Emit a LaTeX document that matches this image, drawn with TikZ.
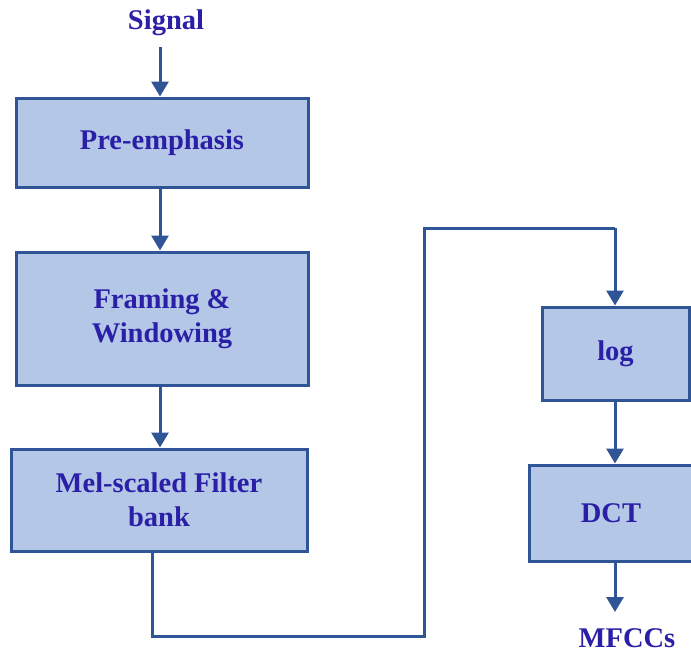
\documentclass[tikz,border=0pt]{standalone}
\usepackage{fontspec}
\setmainfont{Liberation Serif}
\usetikzlibrary{arrows.meta}
\definecolor{boxfill}{HTML}{B4C7E7}
\definecolor{boxline}{HTML}{2F5597}
\definecolor{txt}{HTML}{2A1FA6}
\tikzset{
  stage/.style={draw=boxline, fill=boxfill, line width=3pt, inner sep=0pt, align=center,
    font=\fontsize{28.5}{34}\selectfont\bfseries, text=txt},
  label/.style={font=\fontsize{28.5}{34}\selectfont\bfseries, text=txt, inner sep=0pt},
  flow/.style={draw=boxline, line width=3pt, -{Triangle[width=17pt,length=15pt]}},
  wire/.style={draw=boxline, line width=3pt}
}
\begin{document}
\begin{tikzpicture}[x=1pt,y=-1pt]
\useasboundingbox (0,0) rectangle (691,654);
% input label
\node[label] (sig) at (166,23) {Signal};
% processing stages
\node[stage, minimum width=292pt, minimum height=89pt] (pre) at (162,142.5) {Pre-emphasis};
\node[stage, minimum width=292pt, minimum height=133pt] (frm) at (162,318.5) {Framing \&\\Windowing};
\node[stage, minimum width=296pt, minimum height=102pt] (mel) at (159,500) {Mel-scaled Filter\\bank};
\node[stage, minimum width=147pt, minimum height=93pt] (log) at (615.5,353.5) {log};
\node[stage, minimum width=164pt, minimum height=96pt] (dct) at (611,513) {DCT};
% output label
\node[label] (out) at (627,638) {MFCCs};
% connectors
\coordinate (p0) at (160,47);
\draw[flow] (p0) -- (pre.north -| p0);
\draw[flow] (pre.south -| p0) -- (frm.north -| p0);
\draw[flow] (frm.south -| p0) -- (mel.north -| p0);
\coordinate (c1) at (152,636);
\coordinate (c2) at (424,636);
\coordinate (c3) at (424,228);
\coordinate (c4) at (615,228);
\draw[wire] (mel.south -| c1) -- (c1) -- (c2) -- (c3) -- (c4);
\draw[flow] (c4) -- (log.north -| c4);
\draw[flow] (log.south -| c4) -- (dct.north -| c4);
\coordinate (c5) at (615,612);
\draw[flow] (dct.south -| c4) -- (c5);
\end{tikzpicture}
\end{document}
